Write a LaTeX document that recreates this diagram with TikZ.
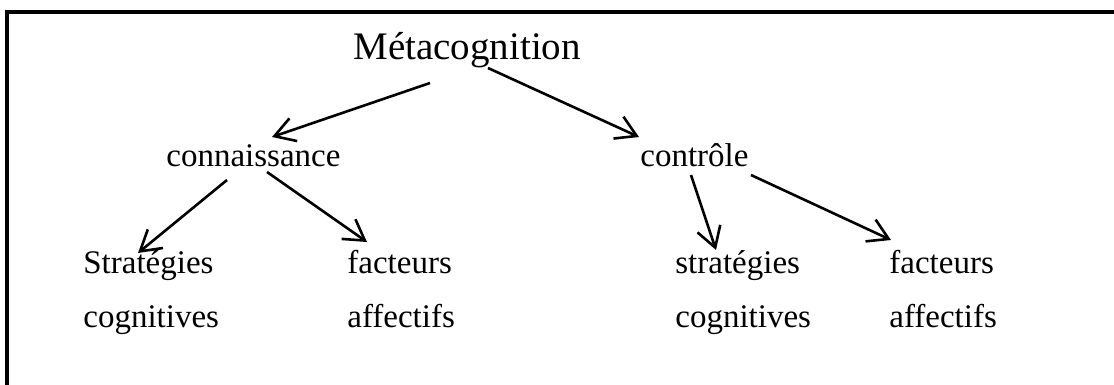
\documentclass[tikz,border=0pt]{standalone}
\usepackage{fontspec}
\setmainfont{Liberation Serif}
\usepackage{tikz}
\usetikzlibrary{arrows.meta, positioning}

\begin{document}
\begin{tikzpicture}[
  x=0.5pt, y=-0.5pt,
  every node/.style={inner sep=0pt, anchor=base west},
  title/.style={font=\fontsize{19.5}{23}\selectfont},
  item/.style={font=\fontsize{16.5}{27}\selectfont, align=left},
  arr/.style={-{Straight Barb[length=10pt, width=12pt]}, line width=1.3pt},
  frame/.style={line width=1.6pt}
]
  \useasboundingbox (0,0) rectangle (1114,385);
  \draw[frame] (7,385) -- (7,12) -- (1114,12);

  \node[title] (meta) at (353,60) {Métacognition};
  \node[item] (conn) at (166,167) {connaissance};
  \node[item] (ctrl) at (640,167) {contrôle};
  % two-line nodes sit on their last baseline
  \node[item] (strat1) at (83,327) {Stratégies\\cognitives};
  \node[item] (fact1) at (347,327) {facteurs\\affectifs};
  \node[item] (strat2) at (675,327) {stratégies\\cognitives};
  \node[item] (fact2) at (889,327) {facteurs\\affectifs};

  \draw[arr] ([shift={(77,23)}]meta.base west) -- ([shift={(106,-30)}]conn.base west);
  \draw[arr] ([shift={(135,8)}]meta.base west) -- ([shift={(-1,-30)}]ctrl.base west);
  \draw[arr] ([shift={(61,13)}]conn.base west) -- ([shift={(55,-74)}]strat1.base west);
  \draw[arr] ([shift={(101,5)}]conn.base west) -- ([shift={(20,-85)}]fact1.base west);
  \draw[arr] ([shift={(51,8)}]ctrl.base west) -- ([shift={(41,-77)}]strat2.base west);
  \draw[arr] ([shift={(111,8)}]ctrl.base west) -- ([shift={(2,-87)}]fact2.base west);
\end{tikzpicture}
\end{document}
